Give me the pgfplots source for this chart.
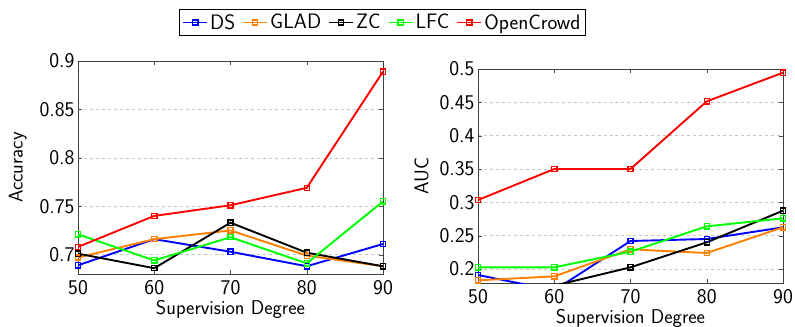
\documentclass[border=0pt]{standalone}
\usepackage{pgfplots}
\pgfplotsset{compat=1.18}
\definecolor{cDS}{RGB}{0,0,255}
\definecolor{cGL}{RGB}{255,128,0}
\definecolor{cLF}{RGB}{0,255,0}
\definecolor{cOC}{RGB}{255,0,0}
\begin{document}
\begin{tikzpicture}
\useasboundingbox (0,0) rectangle (795bp,-327bp);
\pgfplotsset{
 myax/.style={scale only axis, width=305bp, xmin=50, xmax=90,
   xtick={50,60,70,80,90},
   ymajorgrids, grid style={dashed, gray!45, line width=0.6bp},
   tick label style={font=\fontsize{21}{25}\selectfont\sffamily},
   xticklabel style={inner sep=2bp, yshift=-4bp},
   label style={font=\fontsize{20}{24}\selectfont\sffamily},
   /pgf/number format/assume math mode=true,
   every axis plot/.append style={line width=1.9bp, mark=square, mark size=2.6bp, mark options={solid, fill=white, line width=1.3bp}},
   tick style={gray!60!black},
   axis line style={gray!50!black, line width=0.8bp},
   xlabel={Supervision Degree},
   xlabel style={inner sep=1bp, yshift=-3bp},
   legend image code/.code={\draw[mark repeat=2,mark phase=2] plot coordinates {(0bp,0bp)(12bp,0bp)(24bp,0bp)};},
 },
}
\begin{axis}[myax, at={(78bp,-274bp)}, anchor=south west, height=213bp,
  ymin=0.68, ymax=0.9, ytick={0.7,0.75,0.8,0.85,0.9}, yticklabels={0.7,0.75,0.8,0.85,0.9},
  ylabel={Accuracy}, ylabel style={yshift=6bp},
  legend columns=-1,
  legend style={at={(0.998,1.181)}, anchor=center, draw=black, line width=0.6bp,
    font=\fontsize{21}{25}\selectfont\sffamily, inner xsep=3bp, inner ysep=3bp,
    /tikz/every even column/.append style={column sep=5bp}},
]
\addplot[cDS] coordinates {(50,0.689) (60,0.716) (70,0.703) (80,0.688) (90,0.711)};
\addlegendentry{DS}
\addplot[cGL] coordinates {(50,0.697) (60,0.716) (70,0.725) (80,0.699) (90,0.688)};
\addlegendentry{GLAD}
\addplot[black] coordinates {(50,0.701) (60,0.686) (70,0.733) (80,0.702) (90,0.688)};
\addlegendentry{ZC}
\addplot[cLF] coordinates {(50,0.721) (60,0.694) (70,0.718) (80,0.691) (90,0.755)};
\addlegendentry{LFC}
\addplot[cOC] coordinates {(50,0.708) (60,0.740) (70,0.751) (80,0.769) (90,0.889)};
\addlegendentry{OpenCrowd}
\end{axis}
\begin{axis}[myax, at={(478bp,-283bp)}, anchor=south west, height=214bp,
  ymin=0.179, ymax=0.5, ytick={0.2,0.25,0.3,0.35,0.4,0.45,0.5}, yticklabels={0.2,0.25,0.3,0.35,0.4,0.45,0.5},
  ylabel={AUC}, ylabel style={yshift=4bp},
]
\addplot[cDS] coordinates {(50,0.191) (60,0.168) (70,0.242) (80,0.245) (90,0.2625)};
\addplot[cGL] coordinates {(50,0.183) (60,0.189) (70,0.2295) (80,0.224) (90,0.2625)};
\addplot[black] coordinates {(50,0.165) (60,0.175) (70,0.2025) (80,0.240) (90,0.2875)};
\addplot[cLF] coordinates {(50,0.2025) (60,0.2025) (70,0.226) (80,0.264) (90,0.276)};
\addplot[cOC] coordinates {(50,0.3035) (60,0.350) (70,0.350) (80,0.4515) (90,0.4945)};
\end{axis}
\end{tikzpicture}
\end{document}
